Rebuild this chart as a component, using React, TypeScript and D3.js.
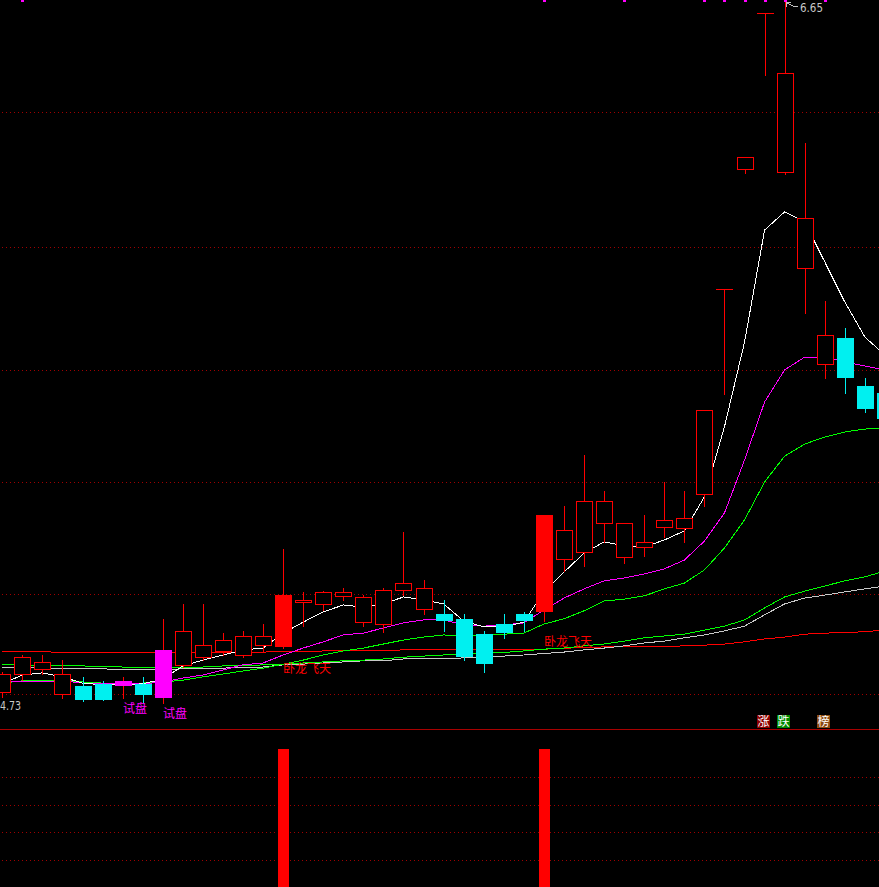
import React, { useEffect, useRef } from "react";
import * as d3 from "d3";

const WIDTH = 879;
const HEIGHT = 887;

// daily candles (price)
const opens = [4.760, 4.808, 4.822, 4.755, 4.776, 4.782, 4.779, 4.782, 4.747, 4.834, 4.855, 4.873, 4.860, 4.888, 4.886, 5.005, 5.000, 5.023, 4.952, 4.945, 5.038, 4.986, 4.973, 4.960, 4.918, 4.946, 4.973, 4.982, 5.123, 5.142, 5.222, 5.130, 5.156, 5.211, 5.208, 5.301, 5.863, 6.192, 6.619, 6.183, 5.921, 5.657, 5.729, 5.598, 5.578];
const highs = [4.814, 4.861, 4.860, 4.847, 4.801, 4.790, 4.801, 4.802, 4.960, 5.001, 5.001, 4.920, 4.927, 4.946, 5.151, 5.034, 5.036, 5.045, 5.025, 5.045, 5.198, 5.066, 5.012, 4.973, 4.927, 4.973, 4.978, 5.245, 5.269, 5.409, 5.310, 5.222, 5.245, 5.336, 5.310, 5.531, 5.863, 6.225, 6.619, 6.650, 6.264, 5.831, 5.756, 5.619, 5.578];
const lows = [4.746, 4.792, 4.808, 4.744, 4.736, 4.738, 4.744, 4.731, 4.730, 4.828, 4.847, 4.861, 4.855, 4.869, 4.881, 4.941, 4.984, 5.012, 4.941, 4.923, 5.025, 4.973, 4.928, 4.847, 4.815, 4.908, 4.928, 4.955, 5.091, 5.106, 5.171, 5.112, 5.133, 5.183, 5.171, 5.270, 5.575, 6.181, 6.449, 6.179, 5.798, 5.621, 5.580, 5.528, 5.510];
const closes = [4.808, 4.855, 4.841, 4.808, 4.740, 4.740, 4.790, 4.754, 4.875, 4.926, 4.888, 4.901, 4.912, 4.912, 5.025, 5.012, 5.033, 5.033, 5.019, 5.039, 5.058, 5.044, 4.958, 4.859, 4.840, 4.925, 4.958, 5.245, 5.203, 5.283, 5.283, 5.222, 5.170, 5.231, 5.235, 5.531, 5.863, 6.225, 6.619, 6.455, 6.058, 5.737, 5.623, 5.538, 5.511];

// moving averages
const ma5 = [4.782, 4.806, 4.812, 4.801, 4.784, 4.779, 4.779, 4.782, 4.795, 4.831, 4.847, 4.861, 4.875, 4.880, 4.921, 4.951, 4.979, 4.998, 4.992, 5.001, 5.020, 5.012, 5.001, 4.954, 4.938, 4.938, 4.951, 5.034, 5.088, 5.140, 5.171, 5.160, 5.157, 5.176, 5.201, 5.294, 5.486, 5.718, 6.025, 6.075, 6.047, 5.938, 5.828, 5.732, 5.683];
const ma10 = [4.787, 4.787, 4.787, 4.790, 4.784, 4.782, 4.782, 4.782, 4.787, 4.798, 4.806, 4.820, 4.834, 4.839, 4.861, 4.880, 4.897, 4.916, 4.921, 4.935, 4.949, 4.957, 4.957, 4.943, 4.940, 4.943, 4.949, 4.984, 5.017, 5.042, 5.064, 5.072, 5.083, 5.097, 5.121, 5.173, 5.250, 5.395, 5.554, 5.642, 5.677, 5.677, 5.664, 5.653, 5.642];
const ma20 = [4.784, 4.790, 4.790, 4.792, 4.787, 4.784, 4.784, 4.784, 4.787, 4.792, 4.801, 4.809, 4.817, 4.825, 4.836, 4.847, 4.861, 4.872, 4.880, 4.891, 4.902, 4.910, 4.916, 4.913, 4.916, 4.918, 4.921, 4.946, 4.960, 4.982, 5.009, 5.014, 5.023, 5.042, 5.058, 5.094, 5.154, 5.231, 5.335, 5.406, 5.439, 5.458, 5.472, 5.480, 5.483];
const ma60 = [4.834, 4.834, 4.832, 4.831, 4.831, 4.829, 4.828, 4.828, 4.828, 4.828, 4.828, 4.831, 4.831, 4.834, 4.836, 4.839, 4.842, 4.845, 4.847, 4.850, 4.855, 4.858, 4.861, 4.864, 4.866, 4.868, 4.872, 4.877, 4.880, 4.886, 4.891, 4.899, 4.908, 4.913, 4.918, 4.929, 4.940, 4.957, 4.990, 5.020, 5.036, 5.050, 5.064, 5.075, 5.091];
const ma120 = [4.828, 4.827, 4.825, 4.825, 4.823, 4.823, 4.821, 4.820, 4.821, 4.823, 4.823, 4.825, 4.827, 4.828, 4.834, 4.836, 4.839, 4.842, 4.845, 4.845, 4.850, 4.851, 4.851, 4.853, 4.855, 4.858, 4.861, 4.865, 4.869, 4.875, 4.880, 4.886, 4.894, 4.899, 4.908, 4.916, 4.927, 4.940, 4.971, 5.001, 5.017, 5.025, 5.034, 5.042, 5.050];
const ma250 = [4.870, 4.870, 4.870, 4.868, 4.868, 4.868, 4.868, 4.868, 4.868, 4.868, 4.868, 4.868, 4.868, 4.869, 4.870, 4.871, 4.872, 4.872, 4.872, 4.873, 4.875, 4.875, 4.875, 4.875, 4.875, 4.876, 4.877, 4.877, 4.879, 4.882, 4.883, 4.883, 4.883, 4.884, 4.886, 4.888, 4.891, 4.897, 4.905, 4.910, 4.918, 4.921, 4.922, 4.925, 4.929];

// signals
const trialDays = [6, 8]; // 试盘
const dragonDays = [14, 27]; // 卧龙飞天
const topMarks = [1, 27, 31, 35, 36, 37, 38, 39, 41];

// price grid + indicator grid
const priceGrid = [4.754, 5.028, 5.335, 5.642, 5.979, 6.349];
const indGrid = [0.2, 0.4, 0.6, 0.8];

const highLabel = "6.65";
const lowLabel = "4.73";
const legendLabels = ["涨", "跌", "榜"];
const legendColors = ["#8c0000", "#008a00", "#8c4a10"];

const RED = "#ff0000";
const CYAN = "#00f0f0";
const MAGENTA = "#ff00ff";
const GRID = "#a00000";
const CJK = "'Noto Sans CJK SC', sans-serif";

const App = () => {
  const svgRef = useRef<SVGSVGElement | null>(null);

  useEffect(() => {
    if (!svgRef.current) return;
    const svg = d3.select(svgRef.current);
    svg.selectAll("*").remove();

    svg.append("rect").attr("width", WIDTH).attr("height", HEIGHT).attr("fill", "#000");

    const n = closes.length;
    const x = d3.scaleLinear().domain([0, n - 1]).range([2.3, 2.3 + 20.06 * (n - 1)]);
    const y = d3.scaleLinear().domain([4.73, 6.65]).range([2 + 1.92 * 365, 2]);
    const yInd = d3.scaleLinear().domain([0, 1]).range([888, 749]);
    const px = (i: number) => Math.round(x(i));

    const crisp = svg.append("g").attr("shape-rendering", "crispEdges");

    // dotted grid lines
    crisp.append("g").selectAll("line")
      .data([...priceGrid.map(p => y(p)), ...indGrid.map(v => yInd(v))])
      .join("line")
      .attr("x1", 2).attr("x2", WIDTH)
      .attr("y1", d => Math.round(d) + 0.5).attr("y2", d => Math.round(d) + 0.5)
      .attr("stroke", GRID).attr("stroke-dasharray", "1,3");

    // pane separator
    crisp.append("rect")
      .attr("x", 0).attr("y", 729).attr("width", WIDTH).attr("height", 1)
      .attr("fill", "#a80000");

    // moving averages
    const line = d3.line<number>().x((_, i) => x(i)).y(d => y(d));
    const series: [number[], string][] = [
      [ma250, RED], [ma120, "#c8c8c8"], [ma60, "#00ff00"], [ma20, "#00ff00"], [ma10, MAGENTA], [ma5, "#ffffff"],
    ];
    series.forEach(([vals, color]) => {
      crisp.append("path").datum(vals).attr("d", line)
        .attr("fill", "none").attr("stroke", color).attr("stroke-width", 1);
    });

    // candles
    const kindOf = (i: number) => {
      if (trialDays.includes(i)) return "trial";
      if (dragonDays.includes(i)) return "dragon";
      return closes[i] >= opens[i] ? "up" : "down";
    };
    const cg = crisp.append("g");
    d3.range(n).forEach(i => {
      const k = kindOf(i);
      const cx = px(i);
      const wickColor = k === "down" ? CYAN : RED;
      const hy = Math.round(y(highs[i]));
      const ly = Math.round(y(lows[i]));
      cg.append("rect")
        .attr("x", cx).attr("y", hy).attr("width", 1).attr("height", ly - hy + 1)
        .attr("fill", wickColor);
      const top = Math.round(y(Math.max(opens[i], closes[i])));
      const bot = Math.round(y(Math.min(opens[i], closes[i])));
      if (bot - top < 1) {
        cg.append("rect")
          .attr("x", cx - 8).attr("y", top).attr("width", 17).attr("height", 1)
          .attr("fill", wickColor);
        return;
      }
      const fill = k === "down" ? CYAN : k === "trial" ? MAGENTA : RED;
      cg.append("rect")
        .attr("x", cx - 8).attr("y", top)
        .attr("width", 17).attr("height", bot - top + 1)
        .attr("fill", fill);
      if (k === "up" && bot - top > 1) {
        cg.append("rect")
          .attr("x", cx - 7).attr("y", top + 1)
          .attr("width", 15).attr("height", bot - top - 1)
          .attr("fill", "#000");
      }
    });

    // top markers
    crisp.append("g").selectAll("rect").data(topMarks).join("rect")
      .attr("x", d => px(d) - 1).attr("y", 0).attr("width", 3).attr("height", 2)
      .attr("fill", MAGENTA);

    // indicator bars
    crisp.append("g").selectAll("rect").data(dragonDays).join("rect")
      .attr("x", d => px(d) - 5).attr("y", yInd(1))
      .attr("width", 11).attr("height", yInd(0) - yInd(1))
      .attr("fill", RED);

    // signal texts
    svg.append("g").selectAll("text").data(trialDays).join("text")
      .attr("x", d => px(d)).attr("y", d => y(lows[d]) + 15)
      .attr("fill", MAGENTA).style("font-family", CJK).style("font-size", "12px")
      .text("试盘");
    svg.append("g").selectAll("text").data(dragonDays).join("text")
      .attr("x", d => px(d)).attr("y", d => y(lows[d]) + 25)
      .attr("fill", RED).style("font-family", CJK).style("font-size", "12px")
      .text("卧龙飞天");

    // high / low labels
    const hiIdx = highs.indexOf(d3.max(highs) as number);
    const hx = px(hiIdx);
    const hy = y(highs[hiIdx]);
    svg.append("path")
      .attr("d", `M${hx + 1.5},${hy + 5} L${hx + 1.5},${hy} L${hx + 6},${hy} M${hx + 2},${hy + 1} L${hx + 8},${hy + 4} L${hx + 13},${hy + 4}`)
      .attr("fill", "none").attr("stroke", "#c0c0c0").attr("stroke-width", 1)
      .attr("shape-rendering", "crispEdges");
    svg.append("text")
      .attr("x", hx + 15).attr("y", hy + 10)
      .attr("textLength", 23).attr("lengthAdjust", "spacingAndGlyphs")
      .attr("fill", "#c8c8c8").style("font-family", "'DejaVu Sans', sans-serif").style("font-size", "13px")
      .text(highLabel);
    svg.append("text")
      .attr("x", 0).attr("y", y(4.73) + 7)
      .attr("textLength", 21).attr("lengthAdjust", "spacingAndGlyphs")
      .attr("fill", "#c8c8c8").style("font-family", "'DejaVu Sans', sans-serif").style("font-size", "13px")
      .text(lowLabel);

    // legend
    const legendX = [757, 777, 817];
    legendLabels.forEach((t, i) => {
      svg.append("rect")
        .attr("x", legendX[i]).attr("y", 715).attr("width", 13).attr("height", 13)
        .attr("fill", legendColors[i]);
      svg.append("text")
        .attr("x", legendX[i] + 6.5).attr("y", 726).attr("text-anchor", "middle")
        .attr("fill", "#fff").style("font-family", CJK).style("font-size", "12px")
        .text(t);
    });
  }, []);

  return (
    <svg
      ref={svgRef}
      width={WIDTH}
      height={HEIGHT}
      style={{ position: "absolute", left: 0, top: 0, display: "block", background: "#000" }}
    />
  );
};

export default App;
